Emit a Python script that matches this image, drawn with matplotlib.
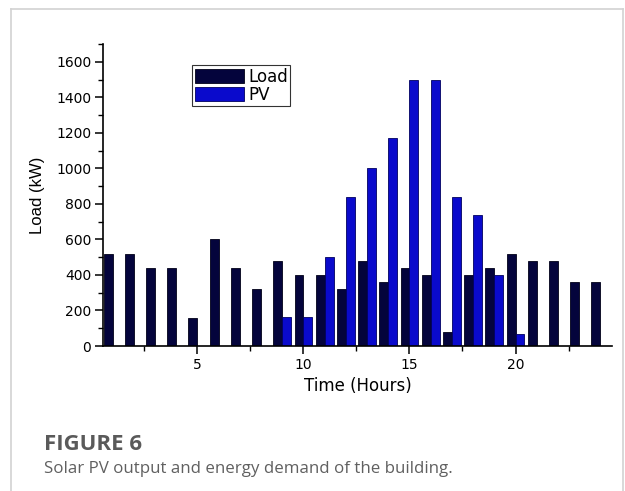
import matplotlib
matplotlib.use("Agg")
import matplotlib.pyplot as plt
import numpy as np
from matplotlib.lines import Line2D
from matplotlib.ticker import MultipleLocator

hours = list(range(1, 25))
load = [520, 520, 440, 440, 160, 600, 440, 320, 480, 400, 400, 320,
        480, 360, 440, 400, 80, 400, 440, 520, 480, 480, 360, 360]
pv = [0, 0, 0, 0, 0, 0, 0, 0, 165, 165, 500, 840,
      1000, 1170, 1500, 1500, 840, 735, 400, 65, 0, 0, 0, 0]
series_labels = ["Load", "PV"]
caption_title = "FIGURE 6"
caption_text = "Solar PV output and energy demand of the building."

W, H = 625, 491
fig = plt.figure(figsize=(W / 100, H / 100), dpi=100)
fig.patch.set_facecolor("white")

ax = fig.add_axes([103 / W, 1 - 346 / H, (612 - 103) / W, (346 - 44) / H])

x = np.array(hours, dtype=float)
bw = 0.42
load_color = "#04043c"
pv_color = "#0a0acc"
ax.bar(x - bw / 2, load, width=bw, color=load_color, edgecolor="#000018",
       linewidth=0.6, label=series_labels[0])
ax.bar(x + bw / 2, pv, width=bw, color=pv_color, edgecolor="#000060",
       linewidth=0.6, label=series_labels[1])

ax.set_xlim(0.55, 24.55)
ax.set_ylim(0, 1700)
ax.xaxis.set_major_locator(MultipleLocator(5))
ax.xaxis.set_minor_locator(MultipleLocator(2.5))
ax.yaxis.set_major_locator(MultipleLocator(200))
ax.yaxis.set_minor_locator(MultipleLocator(100))
for s in ["top", "right"]:
    ax.spines[s].set_visible(False)
for s in ["left", "bottom"]:
    ax.spines[s].set_linewidth(1.2)
ax.tick_params(axis="both", which="major", direction="out", length=5.5,
               width=1.1, labelsize=10, pad=3)
ax.tick_params(axis="both", which="minor", direction="out", length=3.5, width=1.0)
for lab in ax.get_xticklabels() + ax.get_yticklabels():
    lab.set_family("DejaVu Sans")

ax.set_xlabel("Time (Hours)", fontsize=12, family="DejaVu Sans", labelpad=4)
ax.set_ylabel("Load (kW)", fontsize=12, family="Liberation Sans", labelpad=8)
ax.yaxis.set_label_coords(-58 / 509, 0.5)

leg = ax.legend(loc="upper left", bbox_to_anchor=(0.175, 0.93), borderaxespad=0,
                frameon=True, fancybox=False, edgecolor="black",
                prop={"family": "DejaVu Sans", "size": 12},
                handlelength=2.95, handleheight=0.95, labelspacing=0.0,
                handletextpad=0.25, borderpad=0.15)
leg.get_frame().set_linewidth(0.8)

# card border
bc = "#d2d2d2"
fig.add_artist(Line2D([11 / W, 11 / W], [0, 1 - 9 / H], transform=fig.transFigure, color=bc, lw=1.2))
fig.add_artist(Line2D([623 / W, 623 / W], [0, 1 - 9 / H], transform=fig.transFigure, color=bc, lw=1.2))
fig.add_artist(Line2D([11 / W, 623 / W], [1 - 9 / H, 1 - 9 / H], transform=fig.transFigure, color=bc, lw=1.2))

fig.text(44 / W, 1 - 450 / H, caption_title, fontsize=16, fontweight="bold",
         family="Open Sans", color="#5a5a5a", va="baseline", ha="left")
fig.text(44 / W, 1 - 473 / H, caption_text, fontsize=12.15, family="Open Sans",
         color="#606060", va="baseline", ha="left")

fig.savefig("out.png", dpi=100)
